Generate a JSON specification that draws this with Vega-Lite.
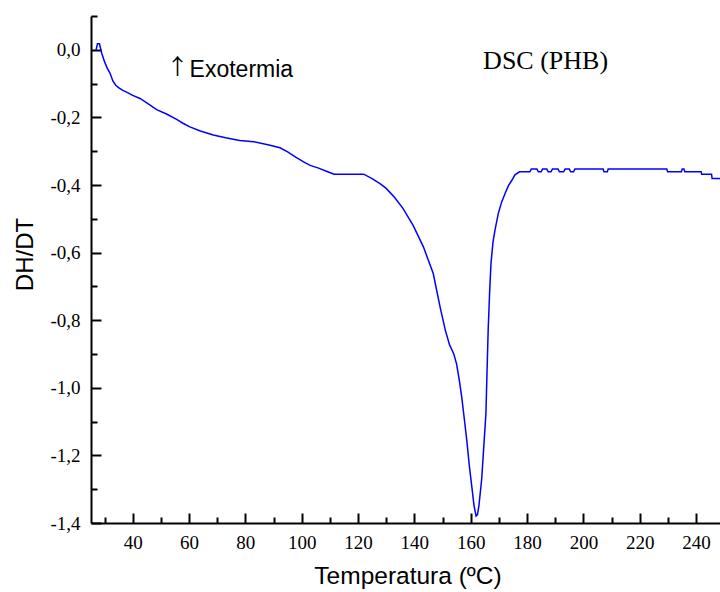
{
  "$schema": "https://vega.github.io/schema/vega-lite/v6.json",
  "width": 629,
  "height": 507,
  "autosize": {"type": "none"},
  "padding": {"left": 91, "top": 16, "right": 0, "bottom": 69},
  "background": "white",
  "config": {"view": {"stroke": null}},
  "resolve": {"scale": {"x": "independent", "y": "independent"}, "axis": {"x": "independent", "y": "independent"}},
  "layer": [
    {
      "data": {"values": [
        {"T": 27.0, "v": 0.0}, {"T": 27.5, "v": 0.018}, {"T": 28.2, "v": 0.018}, {"T": 29, "v": -0.01},
        {"T": 30, "v": -0.035}, {"T": 31, "v": -0.055}, {"T": 32, "v": -0.07}, {"T": 33, "v": -0.093},
        {"T": 34, "v": -0.105}, {"T": 35, "v": -0.112}, {"T": 36.5, "v": -0.12}, {"T": 38, "v": -0.126},
        {"T": 40, "v": -0.135}, {"T": 42.6, "v": -0.144}, {"T": 45, "v": -0.157}, {"T": 48.5, "v": -0.177},
        {"T": 52, "v": -0.19}, {"T": 55.6, "v": -0.206}, {"T": 58, "v": -0.218}, {"T": 60.3, "v": -0.228},
        {"T": 64, "v": -0.24}, {"T": 68.6, "v": -0.252}, {"T": 73, "v": -0.26}, {"T": 78, "v": -0.268},
        {"T": 83, "v": -0.272}, {"T": 88, "v": -0.281}, {"T": 92.3, "v": -0.29}, {"T": 95, "v": -0.302},
        {"T": 98, "v": -0.318}, {"T": 101, "v": -0.333}, {"T": 103, "v": -0.342}, {"T": 106, "v": -0.35},
        {"T": 109, "v": -0.36}, {"T": 111.5, "v": -0.368}, {"T": 122, "v": -0.368}, {"T": 125, "v": -0.381},
        {"T": 127.8, "v": -0.396}, {"T": 130, "v": -0.41}, {"T": 133, "v": -0.437}, {"T": 136, "v": -0.47},
        {"T": 139.6, "v": -0.52}, {"T": 143.2, "v": -0.583}, {"T": 146.7, "v": -0.662}, {"T": 149.1, "v": -0.76},
        {"T": 151, "v": -0.83}, {"T": 152.5, "v": -0.873}, {"T": 154, "v": -0.9}, {"T": 155, "v": -0.93},
        {"T": 156, "v": -0.98}, {"T": 156.8, "v": -1.027}, {"T": 157.7, "v": -1.09}, {"T": 158.6, "v": -1.155},
        {"T": 159.5, "v": -1.23}, {"T": 160.4, "v": -1.293}, {"T": 161.2, "v": -1.35}, {"T": 161.9, "v": -1.379},
        {"T": 162.4, "v": -1.375}, {"T": 162.9, "v": -1.35}, {"T": 163.4, "v": -1.31}, {"T": 163.9, "v": -1.27},
        {"T": 164.6, "v": -1.18}, {"T": 165.4, "v": -1.076}, {"T": 165.8, "v": -0.95}, {"T": 166.2, "v": -0.83},
        {"T": 166.7, "v": -0.72}, {"T": 167.2, "v": -0.632}, {"T": 167.9, "v": -0.57}, {"T": 168.6, "v": -0.534},
        {"T": 169.8, "v": -0.484}, {"T": 171, "v": -0.45}, {"T": 172.2, "v": -0.425}, {"T": 173.4, "v": -0.402},
        {"T": 174.6, "v": -0.386}, {"T": 175.7, "v": -0.37}, {"T": 177.3, "v": -0.361}, {"T": 181, "v": -0.361},
        {"T": 181.5, "v": -0.353}, {"T": 183.5, "v": -0.353}, {"T": 184, "v": -0.361}, {"T": 185, "v": -0.361},
        {"T": 185.5, "v": -0.353}, {"T": 187, "v": -0.353}, {"T": 187.5, "v": -0.361}, {"T": 188.5, "v": -0.361},
        {"T": 189, "v": -0.353}, {"T": 191, "v": -0.353}, {"T": 191.5, "v": -0.361}, {"T": 193, "v": -0.361},
        {"T": 193.5, "v": -0.353}, {"T": 195, "v": -0.353}, {"T": 195.5, "v": -0.361}, {"T": 196.5, "v": -0.361},
        {"T": 197, "v": -0.353}, {"T": 207, "v": -0.353}, {"T": 207.3, "v": -0.361}, {"T": 208.5, "v": -0.361},
        {"T": 208.8, "v": -0.353}, {"T": 229.6, "v": -0.353}, {"T": 229.9, "v": -0.361}, {"T": 234.8, "v": -0.361},
        {"T": 235.1, "v": -0.353}, {"T": 235.7, "v": -0.353}, {"T": 236, "v": -0.361}, {"T": 241.8, "v": -0.361},
        {"T": 242, "v": -0.368}, {"T": 245.5, "v": -0.368}, {"T": 245.7, "v": -0.381}, {"T": 248.5, "v": -0.381}
      ]},
      "mark": {"type": "line", "color": "#0000ff", "strokeWidth": 1.5, "clip": true},
      "encoding": {
        "x": {
          "field": "T", "type": "quantitative",
          "scale": {"domain": [25.2, 248.5], "nice": false, "zero": false},
          "axis": {
            "orient": "bottom",
            "values": [40, 60, 80, 100, 120, 140, 160, 180, 200, 220, 240],
            "title": "Temperatura (ºC)",
            "grid": false,
            "domainColor": "black", "domainWidth": 2,
            "tickColor": "black", "tickWidth": 2, "tickSize": -10,
            "labelFont": "Liberation Serif", "labelFontSize": 19, "labelColor": "black",
            "labelPadding": 20, "labelFlush": false, "labelOverlap": false,
            "titleFont": "Liberation Sans", "titleFontSize": 24.5, "titleFontWeight": "normal", "titleColor": "black",
            "titleX": 316.5, "titleY": 60, "titleBaseline": "alphabetic", "titleAlign": "center"
          }
        },
        "y": {
          "field": "v", "type": "quantitative",
          "scale": {"domain": [-1.4, 0.1], "nice": false, "zero": false},
          "axis": {
            "orient": "left",
            "values": [0, -0.2, -0.4, -0.6, -0.8, -1.0, -1.2, -1.4],
            "title": "DH/DT",
            "grid": false,
            "domainColor": "black", "domainWidth": 2,
            "tickColor": "black", "tickWidth": 2, "tickSize": -10,
            "labelExpr": "replace((datum.value < 0 ? '-' : '') + format(abs(datum.value), '.1f'), '.', ',')",
            "labelFont": "Liberation Serif", "labelFontSize": 19, "labelColor": "black",
            "labelPadding": 21, "labelFlush": false, "labelOverlap": false,
            "titleFont": "Liberation Sans", "titleFontSize": 24, "titleFontWeight": "normal", "titleColor": "black",
            "titleX": -59, "titleY": 238, "titleBaseline": "alphabetic", "titleAlign": "center", "titleAngle": -90
          }
        }
      }
    },
    {
      "data": {"values": [{"label": "Exotermia", "T": 60.2, "v": -0.0796}]},
      "mark": {"type": "text", "font": "Liberation Sans", "fontSize": 23, "align": "left", "baseline": "alphabetic", "color": "black"},
      "encoding": {
        "x": {
          "field": "T", "type": "quantitative",
          "scale": {"domain": [25.2, 248.5], "nice": false, "zero": false},
          "axis": {
            "orient": "bottom",
            "values": [30, 50, 70, 90, 110, 130, 150, 170, 190, 210, 230],
            "title": null, "labels": false, "domain": false, "grid": false,
            "tickColor": "black", "tickWidth": 2, "tickSize": -6
          }
        },
        "y": {
          "field": "v", "type": "quantitative",
          "scale": {"domain": [-1.4, 0.1], "nice": false, "zero": false},
          "axis": {
            "orient": "left",
            "values": [0.1, -0.1, -0.3, -0.5, -0.7, -0.9, -1.1, -1.3],
            "title": null, "labels": false, "domain": false, "grid": false,
            "tickColor": "black", "tickWidth": 2, "tickSize": -6
          }
        },
        "text": {"field": "label"}
      }
    },
    {
      "data": {"values": [{"label": "↑", "T": 55.9, "v": -0.0518}]},
      "mark": {"type": "text", "font": "Noto Sans CJK JP", "fontSize": 22, "align": "center", "baseline": "middle", "color": "black"},
      "encoding": {
        "x": {"field": "T", "type": "quantitative", "scale": {"domain": [25.2, 248.5], "nice": false, "zero": false}, "axis": null},
        "y": {"field": "v", "type": "quantitative", "scale": {"domain": [-1.4, 0.1], "nice": false, "zero": false}, "axis": null},
        "text": {"field": "label"}
      }
    },
    {
      "data": {"values": [{"label": "DSC (PHB)", "T": 164.4, "v": -0.033}]},
      "mark": {"type": "text", "font": "Liberation Serif", "fontSize": 26, "align": "left", "baseline": "middle", "color": "black"},
      "encoding": {
        "x": {"field": "T", "type": "quantitative", "scale": {"domain": [25.2, 248.5], "nice": false, "zero": false}, "axis": null},
        "y": {"field": "v", "type": "quantitative", "scale": {"domain": [-1.4, 0.1], "nice": false, "zero": false}, "axis": null},
        "text": {"field": "label"}
      }
    }
  ]
}
